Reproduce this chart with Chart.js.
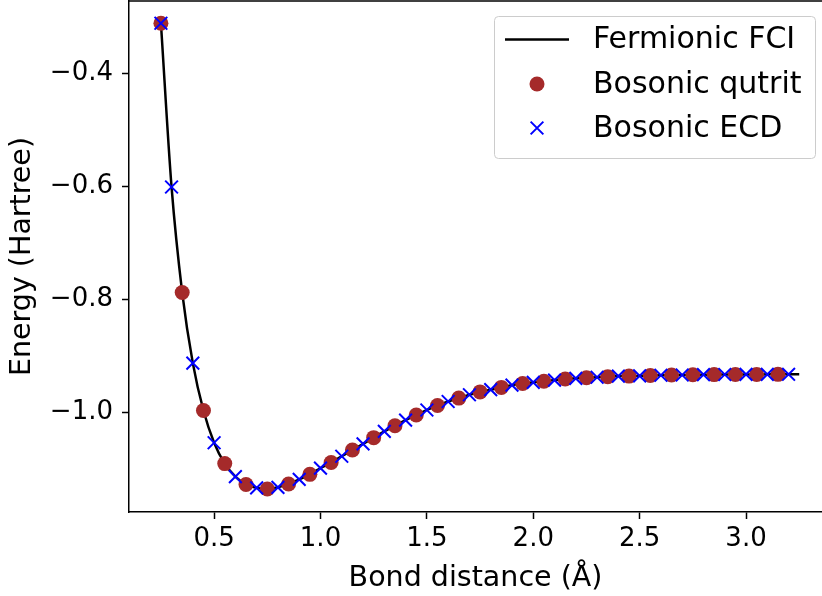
<!DOCTYPE html>
<html>
<head>
<meta charset="utf-8">
<script src="https://cdn.jsdelivr.net/npm/chart.js@4"></script>
<style>
  html, body { margin: 0; padding: 0; background: #fff; overflow: hidden; }
</style>
</head>
<body>
<canvas id="chart" width="822" height="596"></canvas>
<script>
// bond distances (Angstrom) and energies (Hartree)
const fciR = [0.25, 0.30, 0.35, 0.40, 0.45, 0.50, 0.55, 0.60, 0.65, 0.70,
  0.75, 0.80, 0.85, 0.90, 0.95, 1.00, 1.05, 1.10, 1.15, 1.20,
  1.25, 1.30, 1.35, 1.40, 1.45, 1.50, 1.55, 1.60, 1.65, 1.70,
  1.75, 1.80, 1.85, 1.90, 1.95, 2.00, 2.05, 2.10, 2.15, 2.20,
  2.25, 2.30, 2.35, 2.40, 2.45, 2.50, 2.55, 2.60, 2.65, 2.70,
  2.75, 2.80, 2.85, 2.90, 2.95, 3.00, 3.05, 3.10, 3.15, 3.20, 3.25];
const fciE = [-0.311, -0.601, -0.788, -0.913, -0.997, -1.054, -1.091, -1.114, -1.128, -1.134,
  -1.136, -1.133, -1.127, -1.119, -1.110, -1.099, -1.089, -1.078, -1.067, -1.056,
  -1.045, -1.034, -1.024, -1.014, -1.005, -0.996, -0.988, -0.981, -0.975, -0.969,
  -0.964, -0.960, -0.956, -0.952, -0.949, -0.947, -0.945, -0.943, -0.941, -0.940,
  -0.939, -0.938, -0.937, -0.936, -0.936, -0.9355, -0.935, -0.9345, -0.934, -0.934,
  -0.9337, -0.9335, -0.9333, -0.9332, -0.9331, -0.933, -0.933, -0.9329, -0.9329, -0.9328, -0.9328];

const qutritR = [0.25, 0.35, 0.45, 0.55, 0.65, 0.75, 0.85, 0.95, 1.05, 1.15,
  1.25, 1.35, 1.45, 1.55, 1.65, 1.75, 1.85, 1.95, 2.05, 2.15,
  2.25, 2.35, 2.45, 2.55, 2.65, 2.75, 2.85, 2.95, 3.05, 3.15];
const qutritE = [-0.311, -0.788, -0.997, -1.091, -1.128, -1.136, -1.127, -1.110, -1.089, -1.067,
  -1.045, -1.024, -1.005, -0.988, -0.975, -0.964, -0.956, -0.949, -0.945, -0.941,
  -0.939, -0.937, -0.936, -0.935, -0.934, -0.9337, -0.9333, -0.9331, -0.933, -0.9329];

const ecdR = [0.25, 0.3, 0.4, 0.5, 0.6, 0.7, 0.8, 0.9, 1.0, 1.1,
  1.2, 1.3, 1.4, 1.5, 1.6, 1.7, 1.8, 1.9, 2.0, 2.1,
  2.2, 2.3, 2.4, 2.5, 2.6, 2.7, 2.8, 2.9, 3.0, 3.1, 3.2];
const ecdE = [-0.311, -0.601, -0.913, -1.054, -1.114, -1.134, -1.133, -1.119, -1.099, -1.078,
  -1.056, -1.034, -1.014, -0.996, -0.981, -0.969, -0.960, -0.952, -0.947, -0.943,
  -0.940, -0.938, -0.936, -0.9355, -0.9345, -0.934, -0.9335, -0.9332, -0.933, -0.9329, -0.9328];

const xTicks = [0.5, 1.0, 1.5, 2.0, 2.5, 3.0];
const yTicks = [-1.0, -0.8, -0.6, -0.4];
const seriesNames = ['Fermionic FCI', 'Bosonic qutrit', 'Bosonic ECD'];

const FONT = 'DejaVu Sans';

function toPoints(xs, ys) {
  return xs.map((x, i) => ({ x: x, y: ys[i] }));
}

// top spine like matplotlib (the right one is cut off by the crop)
const frame = {
  id: 'frame',
  afterDraw(chart) {
    const a = chart.chartArea;
    const ctx = chart.ctx;
    ctx.save();
    ctx.strokeStyle = '#000';
    ctx.lineWidth = 1.5;
    ctx.beginPath();
    ctx.moveTo(a.left, a.top);
    ctx.lineTo(a.right, a.top);
    ctx.stroke();
    ctx.restore();
  }
};

// legend box in the upper right, drawn from the datasets
const boxLegend = {
  id: 'boxLegend',
  afterDraw(chart) {
    const ctx = chart.ctx;
    const left = 494, top = 16, w = 321, h = 142;
    ctx.save();
    ctx.fillStyle = 'rgba(255,255,255,0.8)';
    ctx.strokeStyle = '#cccccc';
    ctx.lineWidth = 1;
    ctx.beginPath();
    ctx.roundRect(left + 0.5, top + 0.5, w, h, 4);
    ctx.fill();
    ctx.stroke();

    const rows = [39.5, 84, 128];
    ctx.font = '30px "' + FONT + '"';
    ctx.textBaseline = 'middle';
    ctx.textAlign = 'left';
    chart.data.datasets.forEach((ds, i) => {
      const y = rows[i];
      if (i === 0) {
        ctx.strokeStyle = ds.borderColor;
        ctx.lineWidth = ds.borderWidth;
        ctx.beginPath();
        ctx.moveTo(505, y);
        ctx.lineTo(569, y);
        ctx.stroke();
      } else {
        ctx.fillStyle = ds.pointBackgroundColor;
        ctx.strokeStyle = ds.pointBorderColor;
        ctx.lineWidth = ds.borderWidth;
        ctx.beginPath();
        if (ds.pointStyle === 'circle') {
          ctx.arc(537, y, ds.pointRadius, 0, Math.PI * 2);
          ctx.fill();
        } else {
          const d = ds.pointRadius * Math.SQRT1_2;
          ctx.moveTo(537 - d, y - d); ctx.lineTo(537 + d, y + d);
          ctx.moveTo(537 - d, y + d); ctx.lineTo(537 + d, y - d);
          ctx.stroke();
        }
      }
      ctx.fillStyle = '#000';
      ctx.fillText(ds.label, 593, y + 1);
    });
    ctx.restore();
  }
};

new Chart(document.getElementById('chart'), {
  type: 'scatter',
  data: {
    datasets: [
      {
        label: seriesNames[0],
        data: toPoints(fciR, fciE),
        showLine: true,
        borderColor: '#000000',
        backgroundColor: '#000000',
        borderWidth: 2.5,
        pointRadius: 0,
        cubicInterpolationMode: 'monotone',
        order: 3
      },
      {
        label: seriesNames[1],
        data: toPoints(qutritR, qutritE),
        pointStyle: 'circle',
        pointRadius: 7.5,
        pointBackgroundColor: '#a52a2a',
        pointBorderColor: '#a52a2a',
        borderWidth: 0,
        order: 2
      },
      {
        label: seriesNames[2],
        data: toPoints(ecdR, ecdE),
        pointStyle: 'crossRot',
        pointRadius: 9,
        pointBackgroundColor: '#0000ff',
        pointBorderColor: '#0000ff',
        borderWidth: 2,
        order: 1
      }
    ]
  },
  options: {
    responsive: false,
    animation: false,
    layout: { autoPadding: false, padding: { left: 0, right: 0, top: 1, bottom: 0 } },
    plugins: {
      legend: { display: false },
      tooltip: { enabled: false }
    },
    scales: {
      x: {
        type: 'linear',
        min: 0.1,
        max: 3.357,
        afterBuildTicks: (s) => { s.ticks = xTicks.map(v => ({ value: v })); },
        afterFit: (s) => { s.height = 84; s.paddingLeft = 0; s.paddingRight = 0; },
        border: { display: true, color: '#000', width: 1.5 },
        grid: { display: true, drawOnChartArea: false, drawTicks: true, tickLength: 7, tickWidth: 1.5, tickColor: '#000' },
        ticks: {
          color: '#000',
          padding: 5,
          maxRotation: 0,
          font: { family: FONT, size: 26 },
          callback: (v) => Number(v).toFixed(1)
        },
        title: {
          display: true,
          text: 'Bond distance (Å)',
          color: '#000',
          font: { family: FONT, size: 28.5 },
          padding: { top: 0, bottom: 0 }
        }
      },
      y: {
        type: 'linear',
        min: -1.1767,
        max: -0.2716,
        afterBuildTicks: (s) => { s.ticks = yTicks.map(v => ({ value: v })); },
        afterFit: (s) => { s.width = 129; s.paddingTop = 0; s.paddingBottom = 0; },
        border: { display: true, color: '#000', width: 1.5 },
        grid: { display: true, drawOnChartArea: false, drawTicks: true, tickLength: 7, tickWidth: 1.5, tickColor: '#000' },
        ticks: {
          color: '#000',
          padding: 9,
          font: { family: FONT, size: 26 },
          callback: (v) => (v < 0 ? '\u2212' : '') + Math.abs(v).toFixed(1)
        },
        title: {
          display: true,
          text: 'Energy (Hartree)',
          color: '#000',
          font: { family: FONT, size: 28.5 },
          padding: { top: 5, bottom: 0 }
        }
      }
    }
  },
  plugins: [frame, boxLegend]
});
</script>
</body>
</html>
